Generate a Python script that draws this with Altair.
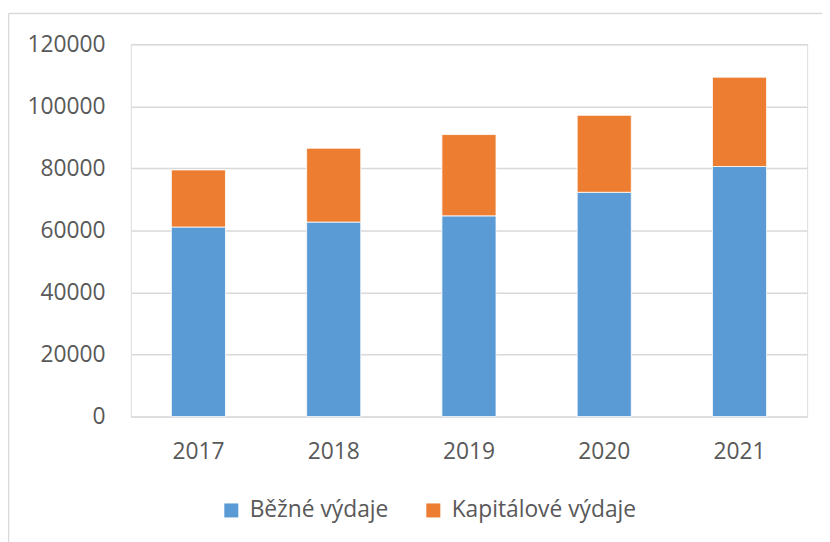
import altair as alt
import pandas as pd

years = ["2017", "2018", "2019", "2020", "2021"]
bezne = [61100, 62700, 64700, 72300, 80600]
kapitalove = [18400, 23800, 26200, 24800, 28800]
series = ["Běžné výdaje", "Kapitálové výdaje"]
colors = ["#5B9BD5", "#ED7D31"]

rows = []
for i, y in enumerate(years):
    rows.append({"rok": y, "druh": series[0], "hodnota": bezne[i], "poradi": 0})
    rows.append({"rok": y, "druh": series[1], "hodnota": kapitalove[i], "poradi": 1})
df = pd.DataFrame(rows)

FONT = "Open Sans"
TXT = "#595959"

bars = alt.Chart(df).mark_bar(stroke="white", strokeWidth=0.8).encode(
    x=alt.X("rok:N", title=None, sort=years,
            scale=alt.Scale(paddingInner=0.6, paddingOuter=0.3),
            axis=alt.Axis(labelAngle=0, ticks=False, domain=False, labelFontSize=23,
                          labelColor=TXT, labelFont=FONT, labelPadding=24)),
    y=alt.Y("hodnota:Q", title=None, stack="zero",
            scale=alt.Scale(domain=[0, 120000]),
            axis=alt.Axis(values=[0, 20000, 40000, 60000, 80000, 100000, 120000],
                          format="d", ticks=False, domain=False, labelFontSize=23,
                          labelColor=TXT, labelFont=FONT, labelPadding=26,
                          gridColor="#d9d9d9", gridWidth=1.5)),
    color=alt.Color("druh:N", sort=series, title=None,
                    scale=alt.Scale(domain=series, range=colors),
                    legend=alt.Legend(orient="none", direction="horizontal",
                                      legendX=90, legendY=459,
                                      symbolType="square", symbolSize=200,
                                      symbolStrokeWidth=0, labelFontSize=23,
                                      labelFont=FONT, labelColor=TXT, labelLimit=400,
                                      labelOffset=7, columnPadding=33)),
    order=alt.Order("poradi:Q", sort="ascending"),
)

frame_top = alt.Chart(pd.DataFrame({"a": [0]})).mark_rule(color="#d9d9d9", strokeWidth=1.5).encode(
    x=alt.value(-123.5), x2=alt.value(720), y=alt.value(-31)
)
frame_left = alt.Chart(pd.DataFrame({"a": [0]})).mark_rule(color="#d9d9d9", strokeWidth=1.5).encode(
    x=alt.value(-123.5), y=alt.value(-31), y2=alt.value(520)
)

chart = alt.layer(frame_top, frame_left, bars).properties(
    width=683, height=376,
    autosize=alt.AutoSizeParams(type="none"),
    padding={"left": 124, "top": 34, "right": 15, "bottom": 124},
).configure_view(stroke=None).configure(background="white")

chart.save("out.html", embed_options={"renderer": "svg", "actions": False})
